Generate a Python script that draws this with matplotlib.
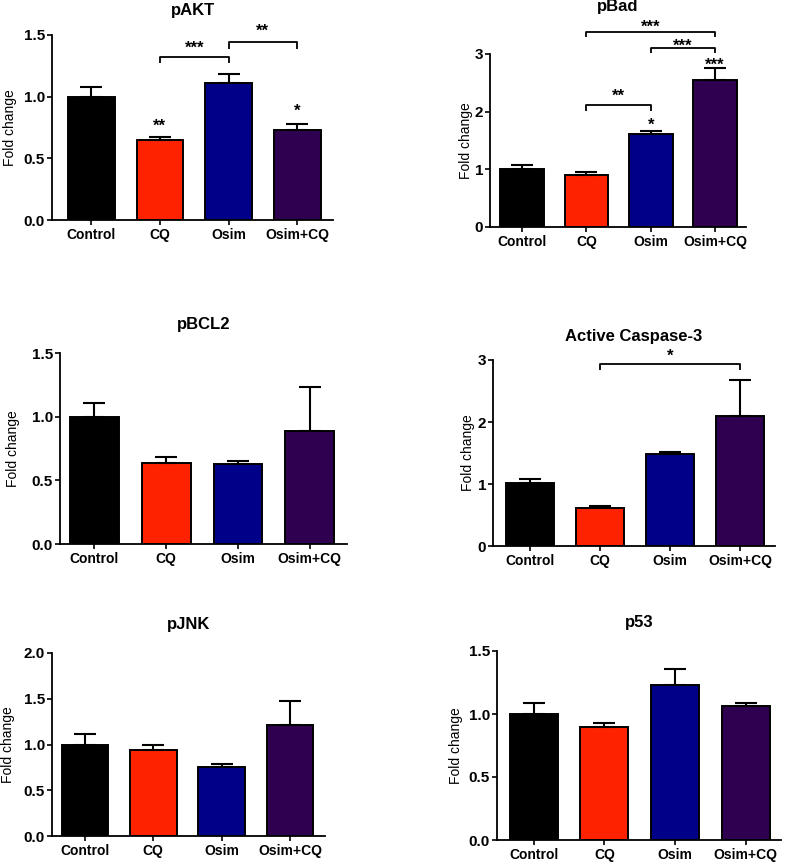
import matplotlib
matplotlib.use("Agg")
import matplotlib.pyplot as plt

plt.rcParams['font.family'] = ['Liberation Sans', 'DejaVu Sans']

W, H = 786, 864

groups = ["Control", "CQ", "Osim", "Osim+CQ"]
bar_colors = ["#000000", "#FF2200", "#000088", "#300050"]

pakt_mean = [1.00, 0.65, 1.11, 0.73]
pakt_sem = [0.08, 0.02, 0.07, 0.05]
pbad_mean = [1.01, 0.90, 1.62, 2.55]
pbad_sem = [0.07, 0.05, 0.05, 0.20]
pbcl2_mean = [1.00, 0.64, 0.63, 0.89]
pbcl2_sem = [0.11, 0.04, 0.02, 0.34]
casp_mean = [1.01, 0.62, 1.48, 2.10]
casp_sem = [0.07, 0.03, 0.04, 0.57]
pjnk_mean = [1.00, 0.94, 0.75, 1.21]
pjnk_sem = [0.11, 0.06, 0.035, 0.26]
p53_mean = [1.00, 0.90, 1.23, 1.066]
p53_sem = [0.085, 0.03, 0.13, 0.02]

titles = ["pAKT", "pBad", "pBCL2", "Active Caspase-3", "pJNK", "p53"]
yticks_list = [[0.0, 0.5, 1.0, 1.5], [0, 1, 2, 3], [0.0, 0.5, 1.0, 1.5],
               [0, 1, 2, 3], [0.0, 0.5, 1.0, 1.5, 2.0], [0.0, 0.5, 1.0, 1.5]]
ytick_labels = [["0.0", "0.5", "1.0", "1.5"], ["0", "1", "2", "3"],
                ["0.0", "0.5", "1.0", "1.5"], ["0", "1", "2", "3"],
                ["0.0", "0.5", "1.0", "1.5", "2.0"], ["0.0", "0.5", "1.0", "1.5"]]

# significance: single-bar stars (bar index, y, label)
pakt_stars = [(1, 0.79, "**"), (3, 0.91, "*")]
pbad_stars = [(2, 1.82, "*"), (3, 2.86, "***")]
# brackets: (i, j, bracket y, label y, label)
pakt_brackets = [(1, 2, 1.32, 1.42, "***"), (2, 3, 1.44, 1.56, "**")]
pbad_brackets = [(1, 2, 2.11, 2.33, "**"), (2, 3, 3.11, 3.20, "***"),
                 (1, 3, 3.39, 3.52, "***")]
casp_brackets = [(1, 3, 2.94, 3.11, "*")]

means = [pakt_mean, pbad_mean, pbcl2_mean, casp_mean, pjnk_mean, p53_mean]
sems = [pakt_sem, pbad_sem, pbcl2_sem, casp_sem, pjnk_sem, p53_sem]
stars = [pakt_stars, pbad_stars, [], [], [], []]
brackets = [pakt_brackets, pbad_brackets, [], casp_brackets, [], []]

# layout in pixels: left, right, top (y max), bottom (y=0), xlim left, xlim right
layout = [
    (52, 333, 35, 220, -0.57, 3.52),
    (490, 746, 54, 227, -0.50, 3.48),
    (60, 347, 353, 544, -0.48, 3.52),
    (493, 775, 360, 546, -0.53, 3.50),
    (52, 325, 653, 836, -0.48, 3.51),
    (497, 781, 651, 840, -0.52, 3.50),
]
title_y = [10, 7, 325, 337, 625, 623]
ylabel_x = [10, 466, 13, 468, 8, 456]
bracket_tip = [0.05, 0.09, 0, 0.10, 0, 0]

fig = plt.figure(figsize=(W / 100, H / 100), dpi=100)

for k in range(6):
    l, r, t, b, x0, x1 = layout[k]
    ax = fig.add_axes([l / W, 1 - b / H, (r - l) / W, (b - t) / H])
    xs = list(range(len(groups)))
    ax.bar(xs, means[k], width=0.68, color=bar_colors, edgecolor="black",
           linewidth=1.4, zorder=2)
    ax.errorbar(xs, means[k], yerr=[[0] * 4, sems[k]], fmt="none",
                ecolor="black", elinewidth=1.5, capsize=8, capthick=1.5,
                zorder=3)
    ax.set_xlim(x0, x1)
    yt = yticks_list[k]
    ax.set_ylim(0, yt[-1])
    ax.set_yticks(yt)
    ax.set_yticklabels(ytick_labels[k], fontsize=11, fontweight="bold")
    ax.set_xticks(xs)
    ax.set_xticklabels(groups, fontsize=10, fontweight="bold")
    for s in ["top", "right"]:
        ax.spines[s].set_visible(False)
    for s in ["left", "bottom"]:
        ax.spines[s].set_linewidth(1.3)
    ax.tick_params(axis="both", direction="out", length=3.5, width=1.2, pad=1.5)
    ax.tick_params(axis="x", pad=2.5)

    fig.text(((l + r) / 2) / W, 1 - title_y[k] / H, titles[k], ha="center",
             va="center", fontsize=12, fontweight="bold")
    fig.text(ylabel_x[k] / W, 1 - ((t + b) / 2) / H, "Fold change",
             rotation=90, ha="center", va="center", fontsize=10)

    for (i, y, lab) in stars[k]:
        ax.annotate(lab, (i, y), xytext=(0, -2.5), textcoords="offset points",
                    ha="center", va="center", fontsize=12, fontweight="bold",
                    annotation_clip=False)
    for (i, j, y, ly, lab) in brackets[k]:
        d = bracket_tip[k]
        ax.plot([i, i, j, j], [y - d, y, y, y - d], color="black", lw=1.3,
                clip_on=False, solid_capstyle="butt")
        ax.annotate(lab, ((i + j) / 2, ly), xytext=(0, -2.5),
                    textcoords="offset points", ha="center", va="center",
                    fontsize=12, fontweight="bold", annotation_clip=False)

fig.savefig("out.png", dpi=100)
